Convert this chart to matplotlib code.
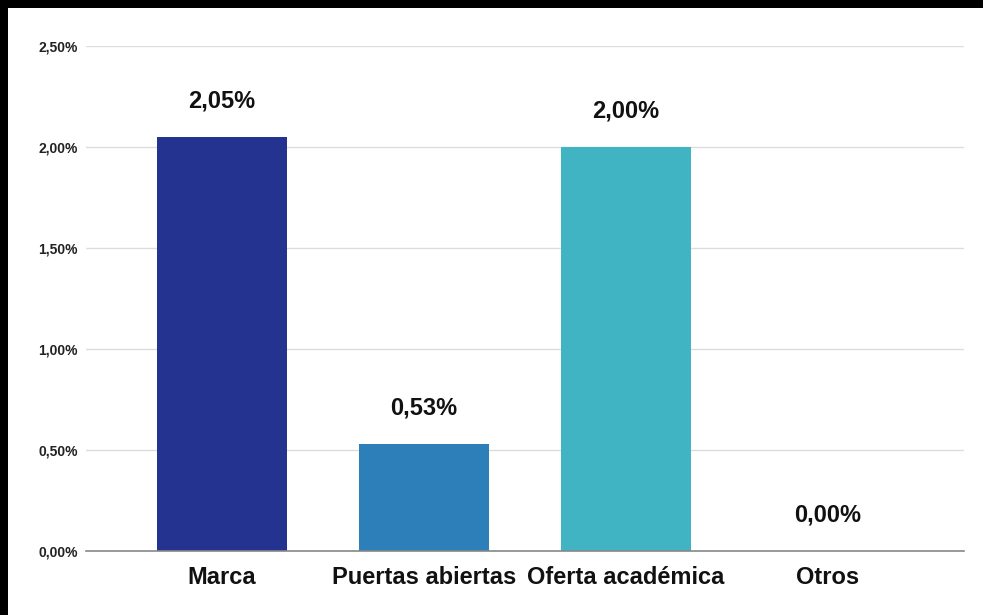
import matplotlib
matplotlib.use("Agg")
import matplotlib.pyplot as plt
from matplotlib.patches import Rectangle
from matplotlib.ticker import FuncFormatter

categories = ["Marca", "Puertas abiertas", "Oferta académica", "Otros"]
values = [2.05, 0.53, 2.00, 0.00]
value_labels = ["2,05%", "0,53%", "2,00%", "0,00%"]
colors = ["#253390", "#2c7fb8", "#41b4c4", "#a1dab4"]
yticks = [0.0, 0.5, 1.0, 1.5, 2.0, 2.5]

W, H = 983, 615
fig = plt.figure(figsize=(W / 100, H / 100), dpi=100, facecolor="black")
fig.patches.append(Rectangle((8 / W, 0), 1, (H - 8) / H, transform=fig.transFigure,
                             facecolor="white", edgecolor="none", zorder=-10))
ax = fig.add_axes([86 / W, (H - 551) / H, (964 - 86) / W, (551 - 46) / H])
ax.set_facecolor("white")

font = "Liberation Sans"
x = list(range(len(categories)))
ax.bar(x, values, width=0.644, color=colors, zorder=3)
for xi, v, lab in zip(x, values, value_labels):
    ax.annotate(lab, (xi, v), xytext=(0, 21), textcoords="offset points",
                ha="center", va="baseline", fontsize=17, fontweight="bold",
                family=font, color="#111111")

ax.set_xlim(-0.673, 3.673)
ax.set_ylim(0, 2.5)
ax.set_yticks(yticks)
ax.yaxis.set_major_formatter(FuncFormatter(lambda v, p: f"{v:.2f}%".replace(".", ",")))
ax.set_xticks(x)
ax.set_xticklabels(categories)
ax.grid(axis="y", color="#dddddd", linewidth=1, zorder=0)
for s in ["top", "right", "left"]:
    ax.spines[s].set_visible(False)
ax.spines["bottom"].set_color("#888888")
ax.spines["bottom"].set_linewidth(1.2)
ax.spines["bottom"].set_zorder(4)
ax.tick_params(axis="y", length=0, pad=6, labelsize=10)
ax.tick_params(axis="x", length=0, pad=11, labelsize=17)
for t in ax.get_yticklabels():
    t.set_fontweight("bold"); t.set_family(font); t.set_color("#222222")
for t in ax.get_xticklabels():
    t.set_fontweight("bold"); t.set_family(font); t.set_color("#111111")

fig.savefig("out.png", dpi=100, facecolor=fig.get_facecolor())
